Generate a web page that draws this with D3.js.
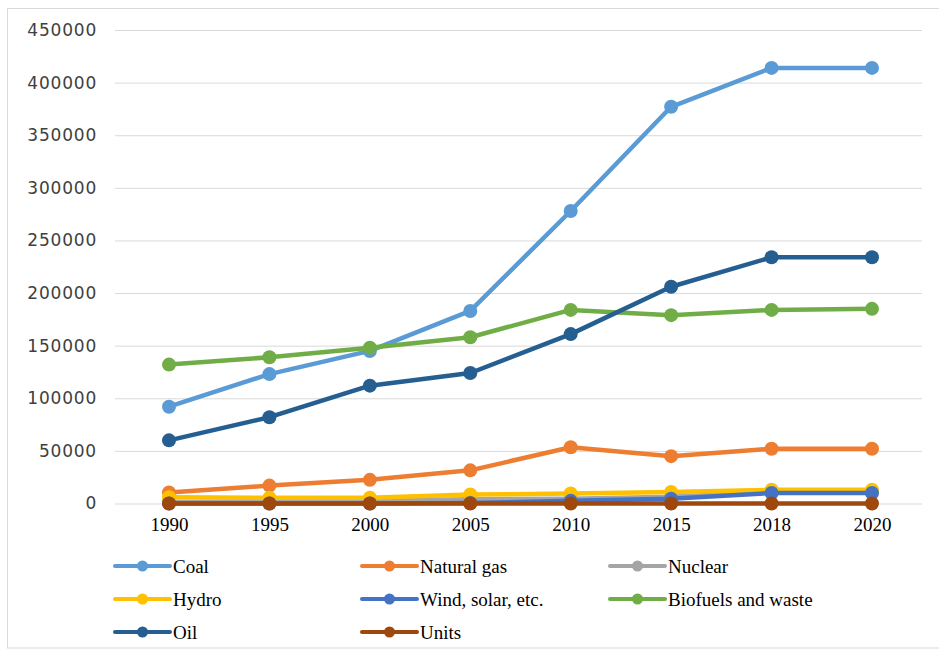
<!DOCTYPE html>
<html>
<head>
<meta charset="utf-8">
<script src="https://cdn.jsdelivr.net/npm/d3@7/dist/d3.min.js"></script>
<style>
  html, body { margin: 0; padding: 0; background: #fff; }
  svg { display: block; }
</style>
</head>
<body>
<svg id="chart" width="939" height="651"></svg>
<script>
const years = ["1990", "1995", "2000", "2005", "2010", "2015", "2018", "2020"];
const yTicks = [0, 50000, 100000, 150000, 200000, 250000, 300000, 350000, 400000, 450000];

const coal     = [92000, 123000, 145000, 183000, 278000, 377000, 414000, 414000];
const naturalGas = [10500, 17000, 22500, 31500, 53500, 45000, 52000, 52000];
const nuclear  = [1500, 2000, 2500, 4000, 4500, 6500, 11000, 11500];
const hydro    = [6000, 5500, 5500, 8500, 9500, 11000, 13000, 13000];
const wind     = [0, 0, 0, 500, 2500, 4500, 10000, 10000];
const biofuels = [132000, 139000, 148000, 158000, 184000, 179000, 184000, 185000];
const oil      = [60000, 82000, 112000, 124000, 161000, 206000, 234000, 234000];
const units    = [0, 0, 0, 0, 0, 0, 0, 0];

const seriesNames = ["Coal", "Natural gas", "Nuclear", "Hydro", "Wind, solar, etc.", "Biofuels and waste", "Oil", "Units"];
const seriesValues = [coal, naturalGas, nuclear, hydro, wind, biofuels, oil, units];
const seriesColors = ["#5B9BD5", "#ED7D31", "#A5A5A5", "#FFC000", "#4472C4", "#70AD47", "#255E91", "#9E480E"];

const svg = d3.select("#chart");

// outer chart border
svg.append("rect")
  .attr("x", 7.5).attr("y", 8.5)
  .attr("width", 940).attr("height", 639.5)
  .attr("fill", "none").attr("stroke", "#d9d9d9").attr("stroke-width", 1);

const plotLeft = 115, plotRight = 922;
const x = d3.scalePoint().domain(years).range([169, 872]);
const y = d3.scaleLinear().domain([0, 450000]).range([503.5, 30]);

// Y axis + gridlines
const yAxis = svg.append("g")
  .attr("transform", `translate(${plotLeft},0)`)
  .call(d3.axisLeft(y).tickValues(yTicks).tickSize(-(plotRight - plotLeft)).tickPadding(18).tickFormat(d3.format("d")));
yAxis.select(".domain").remove();
yAxis.selectAll(".tick line").attr("stroke", "#d9d9d9").attr("stroke-width", 1);
yAxis.selectAll(".tick text")
  .attr("font-family", "DejaVu Sans, sans-serif")
  .attr("font-size", 17)
  .attr("letter-spacing", 0.8)
  .attr("fill", "#404040");

// X axis labels
const xAxis = svg.append("g")
  .attr("transform", `translate(0,${y(0)})`)
  .call(d3.axisBottom(x).tickSize(0).tickPadding(14));
xAxis.select(".domain").remove();
xAxis.selectAll(".tick text")
  .attr("font-family", "Liberation Serif, serif")
  .attr("font-size", 19)
  .attr("fill", "#000");

// Series
const line = d3.line().x((d, i) => x(years[i])).y(d => y(d));
const plot = svg.append("g");
seriesValues.forEach((vals, si) => {
  const g = plot.append("g");
  g.append("path")
    .datum(vals)
    .attr("d", line)
    .attr("fill", "none")
    .attr("stroke", seriesColors[si])
    .attr("stroke-width", 4.5)
    .attr("stroke-linejoin", "round");
  g.selectAll("circle")
    .data(vals)
    .join("circle")
    .attr("cx", (d, i) => x(years[i]))
    .attr("cy", d => y(d))
    .attr("r", 7)
    .attr("fill", seriesColors[si]);
});

// Legend
const colX = [115, 362, 610];
const rowY = [566, 599, 632];
const legend = svg.append("g");
seriesNames.forEach((name, i) => {
  const cx = colX[i % 3], cy = rowY[Math.floor(i / 3)];
  const g = legend.append("g").attr("transform", `translate(${cx},${cy})`);
  g.append("line").attr("x1", 0).attr("x2", 55).attr("y1", 0).attr("y2", 0)
    .attr("stroke", seriesColors[i]).attr("stroke-width", 4).attr("stroke-linecap", "round");
  g.append("circle").attr("cx", 27.5).attr("cy", 0).attr("r", 5.5).attr("fill", seriesColors[i]);
  g.append("text").attr("x", 58).attr("y", 0).attr("dy", "0.35em")
    .attr("font-family", "Liberation Serif, serif")
    .attr("font-size", 19)
    .attr("fill", "#000")
    .text(name);
});
</script>
</body>
</html>
